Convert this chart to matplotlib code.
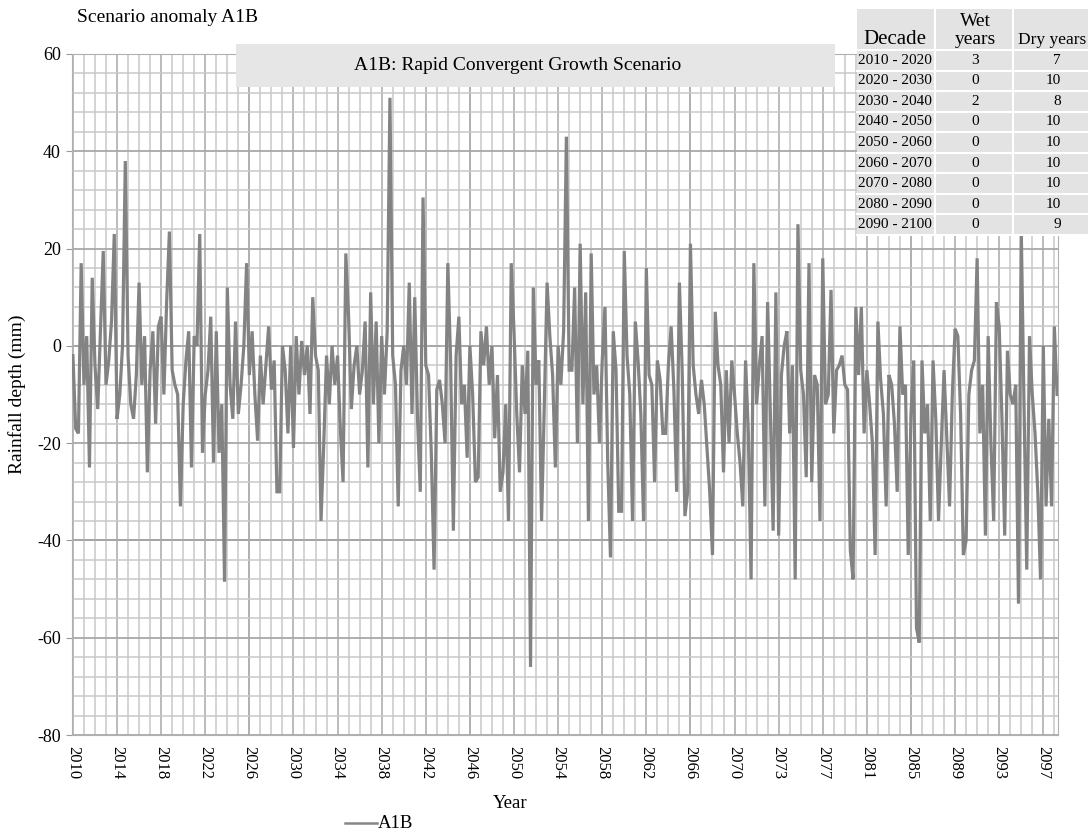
import numpy as np
import matplotlib
matplotlib.use("Agg")
import matplotlib.pyplot as plt
from matplotlib.patches import Rectangle
from matplotlib.lines import Line2D

plt.rcParams['font.family'] = ['Liberation Serif', 'DejaVu Serif']
plt.rcParams['axes.unicode_minus'] = False

# rainfall anomaly (mm), every 3rd month from 2010
a1b = [
    -2, -17, -18, 17, -8, 2, -25, 14, -4, -13, 3, 19.5, -8, -3, 5, 23, -15, -10, 0, 38,
    -2, -12, -15, -6, 13, -8, 2, -26, -5, 3, -16, 4, 6, -10, 9, 23.5, -5, -8, -10, -33,
    -12, -3, 3, -25, 2, 0, 23, -22, -10, -5, 6, -24, 3, -22, -12, -48.5, 12, -8, -15, 5,
    -14,
    -8, 0, 17, -6, 3, -10, -19.5, -2, -12, -4, 4, -9, -3, -30, -30, 0, -5, -18, 0, -21,
    2, -10, 1, -6, 0, -14, 10, -2, -5, -36, -20, -2, -12, 0, -8, -2, -17, -28, 19, 6,
    -13, -4, 0, -10, -5, 5, -25, 11, -12, 5, -20, 2, -10, 3, 51, -2, -8, -33, -5, 0,
    -8, 13, -14, 10, -15, -30, 30.5, -4, -6, -22, -46, -9, -7, -12, -20, 17, -3, -38, -2, 6,
    -12, -8, -23, 0, -10, -28, -27, 3, -4, 4, -8, 0, -19, -6, -30, -26, -12, -36, 17, 3,
    -14, -26, -4, -14, -1, -66, 12, -8, -3, -36, -12, 13, 2, -6, -25, 0, -8, 3, 43, -5,
    -5, 12, -20, 21, -12, 11, -36, 19, -10, -4, -20, -3, 8, -24, -43.5, 3, -5, -34, -34, 19.5,
    -2, -10, -36, 5, -3, -14, -36, 16, -6, -8, -28, -3, -7, -18, -18, -4, 4, -9, -30, 13,
    -5, -35, -30, 21, -4, -10, -14, -7, -12, -21, -30, -43, 7, -4, -8, -26, -5, -20, -3, -10,
    -18, -24, -33, -3, -18, -48, 17, -12, -4, 2, -33, 9, -14, -38, 11, -39, -6, 0, 3, -18,
    -4, -48, 25, -5, -10, -27, 17, -28, -6, -8, -36, 18, -12, -10, 11.5, -18, -5, -4, -2, -8,
    -9, -42, -48, 8, -6, 8, -18, -5, -12, -20, -43, 5, -7, -14, -33, -6, -8, -16, -30, 4,
    -10, -8, -43, -14, -3, -58, -61, -3, -18, -12, -36, -3, -15, -36, -20, -5, -19, -33, -10, 3.5,
    2, -14, -43, -40, -10, -5, -3, 18, -18, -8, -39, 2, -20, -36, 9, 4, -15, -39, -1, -10,
    -12, -8, -53, 24, -12, -46, 2, -10, -18, -30, -48, 0, -33, -15, -33, 4, -10,
]
step_months = 3

year_labels = ['2010', '2014', '2018', '2022', '2026', '2030', '2034', '2038', '2042',
               '2046', '2050', '2054', '2058', '2062', '2066', '2070', '2073', '2077',
               '2081', '2085', '2089', '2093', '2097']

decades = ['2010 - 2020', '2020 - 2030', '2030 - 2040', '2040 - 2050', '2050 - 2060',
           '2060 - 2070', '2070 - 2080', '2080 - 2090', '2090 - 2100']
wet_years = [3, 0, 2, 0, 0, 0, 0, 0, 0]
dry_years = [7, 10, 8, 10, 10, 10, 10, 10, 9]

W, H = 1088, 834


def fx(x):
    return x / W


def fy(y):
    return 1 - y / H


fig = plt.figure(figsize=(W / 100, H / 100), dpi=100)
ax = fig.add_axes([fx(72), fy(735), fx(1058) - fx(72), fy(54) - fy(735)])

months = np.arange(len(a1b)) * step_months
ax.plot(months, a1b, color='#838383', lw=2.3, zorder=3, solid_joinstyle='miter')

ax.set_xlim(-1, 1072)
ax.set_ylim(-80, 60)

ax.set_xticks(np.arange(len(year_labels)) * 48)
ax.set_xticklabels(year_labels, rotation=-90, fontsize=12)
ax.set_xticks(np.arange(0, 1072, 12), minor=True)
ax.set_yticks(np.arange(-80, 61, 20))
ax.set_yticks(np.arange(-80, 61, 4), minor=True)
ax.tick_params(axis='x', which='both', length=0, pad=8)
ax.tick_params(axis='y', which='major', length=4, color='#9a9a9a', labelsize=13, pad=4)
ax.tick_params(axis='y', which='minor', length=0)

ax.grid(which='minor', color='#c9c9c9', lw=1.1, zorder=0)
ax.grid(which='major', axis='x', color='#b5b5b5', lw=1.3, zorder=0)
ax.grid(which='major', axis='y', color='#a8a8a8', lw=1.3, zorder=0)
for m in range(192, 1072, 240):
    ax.axvline(m, color='#8f8f8f', lw=1.4, zorder=1)
ax.axhline(-40, color='#8c8c8c', lw=1.4, zorder=1)
ax.axhline(0, color='#8a8a8a', lw=1.3, ls=(0, (6, 3)), zorder=1)
for s in ax.spines.values():
    s.set_color('#b0b0b0')

ax.set_ylabel('Rainfall depth (mm)', fontsize=14, labelpad=8)
fig.text(fx(510), fy(803), 'Year', fontsize=13.5, ha='center', va='center')
fig.text(fx(77), fy(18), 'Scenario anomaly A1B', fontsize=14, ha='left', va='center')

# legend
fig.add_artist(Line2D([fx(345), fx(377)], [fy(823), fy(823)], color='#878787', lw=1.8))
fig.text(fx(378), fy(823), 'A1B', fontsize=13.5, ha='left', va='center')

# title box
fig.add_artist(Rectangle((fx(236), fy(87)), fx(835) - fx(236), fy(44) - fy(87),
                         transform=fig.transFigure, facecolor='#e6e6e6', edgecolor='none'))
fig.text(fx(518), fy(66), 'A1B: Rapid Convergent Growth Scenario', fontsize=14,
         ha='center', va='center')

# wet / dry decade table
tx0, tx1, ty0, ty1 = 857, 1090, 9, 235
fig.add_artist(Rectangle((fx(tx0), fy(ty1)), fx(tx1) - fx(tx0), fy(ty0) - fy(ty1),
                         transform=fig.transFigure, facecolor='#e3e3e3', edgecolor='none'))
row_h = (ty1 - 50) / len(decades)
for k in range(len(decades) + 1):
    yy = 50 + k * row_h
    fig.add_artist(Line2D([fx(tx0), fx(tx1)], [fy(yy), fy(yy)], color='white', lw=1.5))
for xx in (935, 1013):
    fig.add_artist(Line2D([fx(xx), fx(xx)], [fy(ty0), fy(ty1)], color='white', lw=1.5))

fig.text(fx(895), fy(40), 'Decade', fontsize=15, ha='center', va='center')
fig.text(fx(975), fy(21), 'Wet', fontsize=14, ha='center', va='center')
fig.text(fx(975), fy(40), 'years', fontsize=14, ha='center', va='center')
fig.text(fx(1052), fy(40), 'Dry years', fontsize=12.5, ha='center', va='center')
for k, (d, w, dr) in enumerate(zip(decades, wet_years, dry_years)):
    yc = 50 + (k + 0.5) * row_h
    fig.text(fx(858), fy(yc), d, fontsize=11, ha='left', va='center')
    fig.text(fx(975), fy(yc), str(w), fontsize=11, ha='center', va='center')
    fig.text(fx(1061), fy(yc), str(dr), fontsize=11, ha='right', va='center')

fig.savefig('out.png', dpi=100)
